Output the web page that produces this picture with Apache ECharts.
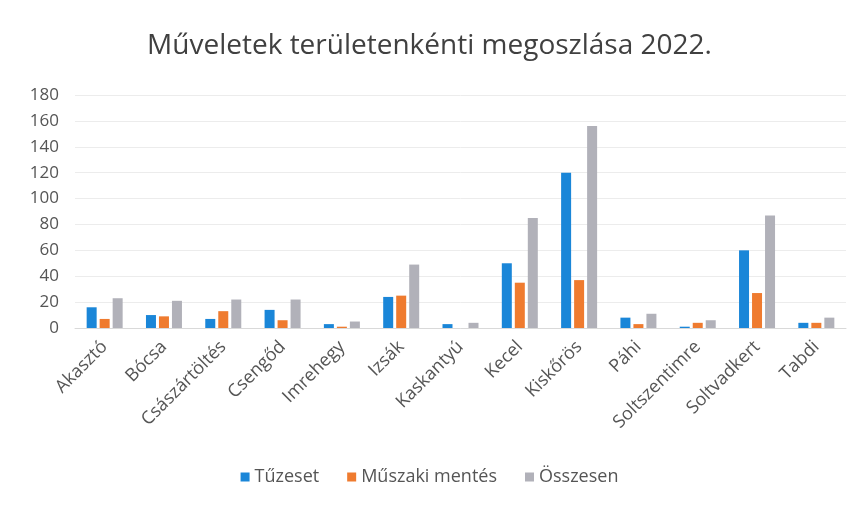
<!DOCTYPE html>
<html>
<head>
<meta charset="utf-8">
<script src="https://cdn.jsdelivr.net/npm/echarts@6/dist/echarts.min.js"></script>
<style>
html,body{margin:0;padding:0;background:#fff;}
#c{width:859px;height:507px;}
</style>
</head>
<body>
<div id="c"></div>
<script>
var categories = ['Akasztó','Bócsa','Császártöltés','Csengőd','Imrehegy','Izsák','Kaskantyú','Kecel','Kiskőrös','Páhi','Soltszentimre','Soltvadkert','Tabdi'];
var tuzeset = [16, 10, 7, 14, 3, 24, 3, 50, 120, 8, 1, 60, 4];
var muszaki = [7, 9, 13, 6, 1, 25, 0, 35, 37, 3, 4, 27, 4];
var osszesen = [23, 21, 22, 22, 5, 49, 4, 85, 156, 11, 6, 87, 8];
var seriesNames = ['Tűzeset', 'Műszaki mentés', 'Összesen'];
var yTicks = [0, 20, 40, 60, 80, 100, 120, 140, 160, 180];

var font = '"Open Sans", Calibri, sans-serif';
var chart = echarts.init(document.getElementById('c'));
chart.setOption({
  animation: false,
  backgroundColor: '#fff',
  title: {
    text: 'Műveletek területenkénti megoszlása 2022.',
    left: 'center',
    top: 27,
    textStyle: {fontFamily: font, fontSize: 28, fontWeight: 'normal', color: '#404040'}
  },
  legend: {
    bottom: 16,
    left: 'center',
    itemWidth: 9,
    itemHeight: 9,
    itemGap: 28,
    icon: 'rect',
    textStyle: {fontFamily: font, fontSize: 18, color: '#555'},
    data: seriesNames
  },
  grid: {left: 75, right: 13, top: 95, bottom: 179},
  xAxis: {
    type: 'category',
    data: categories,
    axisLine: {lineStyle: {color: '#d9d9d9'}},
    axisTick: {show: false},
    axisLabel: {rotate: 45, fontFamily: font, fontSize: 18, color: '#555', interval: 0, margin: 16}
  },
  yAxis: {
    type: 'value',
    min: yTicks[0],
    max: yTicks[yTicks.length - 1],
    interval: 20,
    axisLine: {show: false},
    axisTick: {show: false},
    splitLine: {lineStyle: {color: '#ececec'}},
    axisLabel: {fontFamily: font, fontSize: 17, color: '#555', margin: 16}
  },
  series: [
    {name: seriesNames[0], type: 'bar', data: tuzeset, itemStyle: {color: '#1a86d8'}, barWidth: 10, barGap: '30%'},
    {name: seriesNames[1], type: 'bar', data: muszaki, itemStyle: {color: '#ef7b2f'}, barWidth: 10, barGap: '30%'},
    {name: seriesNames[2], type: 'bar', data: osszesen, itemStyle: {color: '#b1b1b9'}, barWidth: 10, barGap: '30%'}
  ]
});
</script>
</body>
</html>
